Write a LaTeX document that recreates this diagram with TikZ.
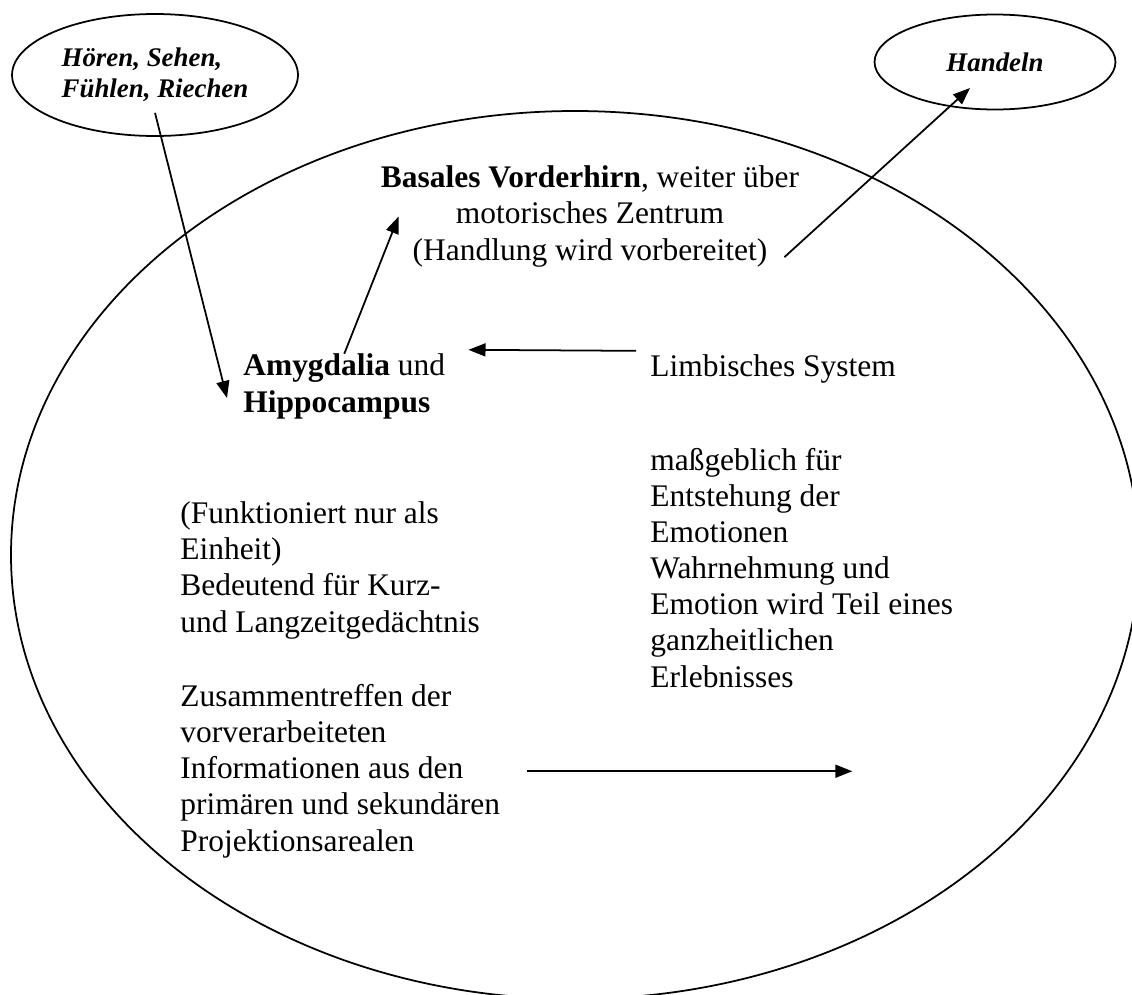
\documentclass[tikz,border=0pt]{standalone}
\usepackage{fontspec}
\setmainfont{Liberation Serif}
\usetikzlibrary{shapes.geometric,arrows.meta}

\begin{document}
\begin{tikzpicture}[x=0.02cm,y=-0.02cm,
		txt/.style={inner sep=0,align=left,anchor=base west,font=\fontsize{17.9}{20.5}\selectfont},
		sense/.style={draw,ellipse,line width=1pt,inner sep=0,align=left,font=\fontsize{15.3}{17.9}\selectfont\bfseries\itshape},
		arr/.style={line width=1pt,-{Triangle[length=0.34cm,width=0.26cm]}}]
		\useasboundingbox (0,0) rectangle (1132,994);
		\clip (0,0) rectangle (1132,994);
		\draw[line width=1pt] (575,555) ellipse [x radius=564,y radius=444];
		\node[sense,minimum width=5.72cm,minimum height=2.44cm] (senses) at (155,75) {Hören, Sehen,\\Fühlen, Riechen};
		\node[sense,minimum width=4.82cm,minimum height=1.9cm] (act) at (995,62) {Handeln};
		% multi-line nodes: base = last line
		\node[txt,align=center,anchor=base] (basal) at (590,260) {\textbf{Basales Vorderhirn}, weiter über\\motorisches Zentrum\\(Handlung wird vorbereitet)};
		\node[txt] (amyg) at (243,412) {\textbf{Amygdalia} und\\\textbf{Hippocampus}};
		\node[txt] (limb) at (650,376) {Limbisches System};
		\node[txt] (emo) at (650,687) {maßgeblich für\\Entstehung der\\Emotionen\\Wahrnehmung und\\Emotion wird Teil eines\\ganzheitlichen\\Erlebnisses};
		\node[txt] (func) at (180,632) {(Funktioniert nur als\\Einheit)\\Bedeutend für Kurz-\\und Langzeitgedächtnis};
		\node[txt] (meet) at (180,851) {Zusammentreffen der\\vorverarbeiteten\\Informationen aus den\\primären und sekundären\\Projektionsarealen};
		\draw[arr] ([yshift=0.48cm]senses.south) -- ([xshift=-0.32cm,yshift=0.28cm]amyg.base west);
		\draw[arr] (amyg.north) -- ([xshift=0.36cm]basal.west);
		\draw[arr] ([xshift=-0.3cm,yshift=0.2cm]basal.south east) -- ([xshift=-0.5cm,yshift=-0.52cm]act.center);
		\draw[arr] ([xshift=-0.28cm,yshift=0.06cm]limb.north west) -- ([xshift=0.46cm,yshift=0.08cm]amyg.north east);
		\draw[arr] ([xshift=0.54cm]meet.east) -- ++(325,0);
	\end{tikzpicture}
\end{document}
